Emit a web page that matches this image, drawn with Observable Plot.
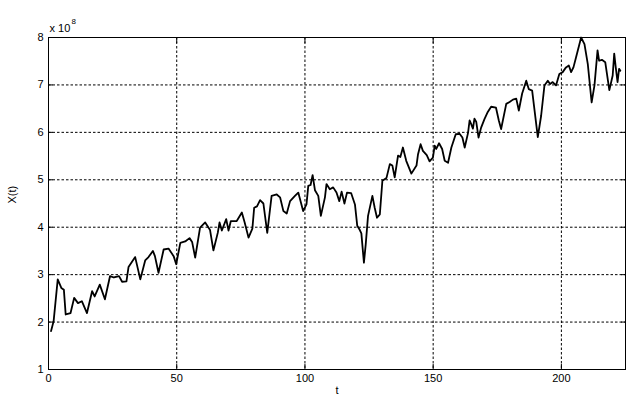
<!DOCTYPE html>
<html>
<head>
<meta charset="utf-8">
<script src="https://cdn.jsdelivr.net/npm/d3@7"></script>
<script src="https://cdn.jsdelivr.net/npm/@observablehq/plot@0.6"></script>
<style>
  html, body { margin: 0; padding: 0; background: #fff; }
  #chart { width: 627px; height: 400px; }
</style>
</head>
<body>
<div id="chart"></div>
<script>
// time values (t) and series values X(t) in units of 1e8
const tValues = [
  1, 2, 3.6, 5, 6, 6.7, 8.6, 10, 11.5, 13, 15, 17, 18, 20, 22, 24, 25.5, 27.5, 28.7, 30.4,
  31.2, 33.8, 35.8, 37.7, 39, 40.7, 41.5, 42.9, 44.9, 46.8, 48.8, 49.8, 51.4, 53.3, 55, 56,
  57.2, 59.1, 61.1, 63, 64.3, 66, 66.7, 67.6, 69.3, 70.2, 71.1, 73.4, 75.4, 76.5, 78, 79.5,
  80.2, 81.3, 82.5, 83.8, 85.3, 87, 89, 90.3, 91.6, 92.9, 94.2, 96.1, 97.4, 99.3, 100.6,
  101.3, 102.2, 103, 103.9, 105.2, 106.2, 107.8, 108.4, 109.7, 111, 112.3, 113.4, 114.3,
  115.4, 116.4, 118, 119.5, 120.4, 121.4, 122, 123, 123.7, 124.6, 126.3, 127.2, 128.1,
  129.2, 130.2, 131.8, 133.1, 134.1, 135, 136.3, 137.2, 138.2, 139.5, 141.5, 143.5, 144.1,
  145.1, 146, 147.5, 148.6, 149.9, 150.6, 151.2, 152.3, 153.5, 154.5, 155.8, 157.1, 158.8,
  160.3, 161.4, 162.3, 163.6, 164.2, 164.8, 165.5, 166.1, 166.8, 167.7, 168.7, 170, 171.3,
  172.6, 174.5, 175.6, 176.5, 178.5, 179.8, 181.1, 182.4, 183.4, 184.7, 186.3, 187.3, 188.6,
  190.8, 192.1, 193.4, 194.7, 195.6, 196.6, 197.9, 199.2, 200.5, 201.8, 202.9, 203.8, 204.7,
  205.7, 207.7, 209, 210.3, 211.8, 212.9, 214.1, 214.7, 215.8, 217.1, 218.7, 220, 220.6,
  221.2, 221.9, 222.5, 223
];
const xValues = [
  1.81, 2.02, 2.9, 2.72, 2.68, 2.16, 2.19, 2.51, 2.4, 2.44, 2.19, 2.65, 2.54, 2.79, 2.48, 2.97, 2.94, 2.97, 2.85, 2.86,
  3.16, 3.37, 2.9, 3.3, 3.37, 3.5, 3.39, 3.04, 3.53, 3.55, 3.39, 3.22, 3.67, 3.7, 3.77, 3.69,
  3.36, 3.99, 4.1, 3.94, 3.51, 3.88, 4.1, 3.93, 4.17, 3.93, 4.13, 4.13, 4.31, 4.1, 3.78, 3.97,
  4.41, 4.44, 4.57, 4.5, 3.88, 4.66, 4.69, 4.63, 4.34, 4.29, 4.55, 4.66, 4.73, 4.34, 4.48,
  4.87, 4.89, 5.1, 4.78, 4.66, 4.24, 4.63, 4.91, 4.8, 4.84, 4.73, 4.55, 4.75,
  4.5, 4.73, 4.72, 4.48, 4.03, 3.94, 3.87, 3.25, 3.64, 4.24, 4.66, 4.41, 4.2,
  4.27, 4.98, 5.04, 5.33, 5.3, 5.05, 5.51, 5.48, 5.68, 5.4, 5.13, 5.3, 5.54,
  5.75, 5.61, 5.52, 5.39, 5.47, 5.72, 5.65, 5.77, 5.65, 5.4, 5.36, 5.68, 5.96,
  5.97, 5.89, 5.68, 5.99, 6.25, 6.18, 6.08, 6.29, 6.22, 5.89, 6.1, 6.28, 6.43,
  6.54, 6.52, 6.25, 6.07, 6.6, 6.64, 6.69, 6.71, 6.46, 6.82, 7.09, 6.91, 6.88,
  5.9, 6.35, 6.99, 7.09, 7.02, 7.06, 6.99, 7.23, 7.27, 7.37, 7.41, 7.27, 7.37,
  7.58, 8.0, 7.86, 7.44, 6.63, 6.99, 7.73, 7.51, 7.53, 7.48, 6.89, 7.2, 7.66,
  7.37, 7.06, 7.34, 7.3
];
const xTicks = [0, 50, 100, 150, 200];
const yTicks = [1, 2, 3, 4, 5, 6, 7, 8];
const xLabel = "t";
const yLabel = "X(t)";
const multiplierBase = "x 10";
const multiplierExp = "8";

const data = tValues.map((t, i) => ({t, x: xValues[i]}));
const font = "Liberation Sans, Arial, sans-serif";
const noText = () => "";

const chart = Plot.plot({
  width: 627,
  height: 400,
  marginLeft: 48,
  marginRight: 2,
  marginTop: 37,
  marginBottom: 31,
  style: {fontFamily: font, fontSize: "11px", background: "#fff", color: "#000"},
  x: {domain: [0, 225], ticks: xTicks},
  y: {domain: [1, 8], ticks: yTicks},
  marks: [
    Plot.ruleX(xTicks, {stroke: "#000", strokeDasharray: "2.5,2", strokeWidth: 1}),
    Plot.ruleY(yTicks, {stroke: "#000", strokeDasharray: "2.5,2", strokeWidth: 1}),
    // inward tick marks on all four sides
    Plot.axisX(xTicks, {anchor: "bottom", tickSize: -5, tickFormat: noText, label: null, strokeWidth: 1}),
    Plot.axisX(xTicks, {anchor: "top", tickSize: -5, tickFormat: noText, label: null, strokeWidth: 1}),
    Plot.axisY(yTicks, {anchor: "left", tickSize: -5, tickFormat: noText, label: null, strokeWidth: 1}),
    Plot.axisY(yTicks, {anchor: "right", tickSize: -5, tickFormat: noText, label: null, strokeWidth: 1}),
    // tick labels
    Plot.axisX(xTicks, {tickSize: 0, tickPadding: 5, label: null, fontSize: 11}),
    Plot.axisY(yTicks, {tickSize: 0, tickPadding: 5, label: null, fontSize: 11}),
    Plot.line(data, {x: "t", y: "x", stroke: "#000", strokeWidth: 1.8}),
    Plot.frame({stroke: "#000", strokeWidth: 1}),
    Plot.text([yLabel], {frameAnchor: "left", dx: -36, rotate: -90, fontSize: 11, text: d => d}),
    Plot.text([xLabel], {frameAnchor: "bottom", dy: 24, fontSize: 11, text: d => d}),
    Plot.text([multiplierBase], {frameAnchor: "top-left", dx: 1, dy: -13, textAnchor: "start", fontSize: 11, text: d => d}),
    Plot.text([multiplierExp], {frameAnchor: "top-left", dx: 23, dy: -19, textAnchor: "start", fontSize: 8, text: d => d})
  ]
});
document.getElementById("chart").appendChild(chart);
</script>
</body>
</html>
